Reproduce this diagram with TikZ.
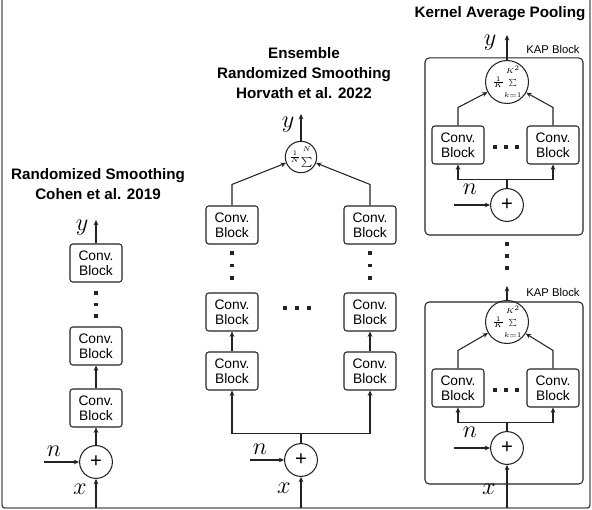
\documentclass[tikz,border=0pt]{standalone}
\usepackage{fontspec}
\setmainfont{Liberation Sans}
\usepackage{amsmath}
\usepackage{graphicx}
\usetikzlibrary{arrows.meta, positioning, calc}
\definecolor{rsLine}{RGB}{35, 35, 35}
\definecolor{rsFrame}{RGB}{80, 80, 80}
\tikzset{
  convblock/.style={rectangle, rounded corners=2pt, draw=rsLine, line width=0.75pt, minimum width=1.3cm, minimum height=0.95cm, align=center, inner sep=0pt, font=\fontsize{9.8}{11}\selectfont},
  sumnode/.style={circle, draw=rsLine, line width=0.75pt, minimum size=0.76cm, inner sep=0pt, font=\scriptsize},
  addnode/.style={circle, draw=rsLine, line width=0.75pt, minimum size=0.82cm, inner sep=0pt, font=\Large},
  kapbox/.style={rectangle, rounded corners=3pt, draw=rsLine, line width=0.75pt, minimum width=3.95cm, minimum height=#1},
  title/.style={align=center, inner sep=0pt, font=\fontsize{10.8}{14.2}\selectfont\bfseries},
  varlabel/.style={inner sep=0pt, font=\fontsize{19}{19}\selectfont},
  kaplabel/.style={inner sep=0pt, font=\fontsize{8}{9}\selectfont},
  myarrow/.style={-{Stealth[length=3.8pt, width=3.4pt]}, line width=0.75pt, rsLine},
  myline/.style={line width=1pt, rsFrame},
}
\newcommand{\convtext}{Conv.\\Block}
\newcommand{\enssum}{$\frac{1}{N}\vcenter{\hbox{\shortstack{$\scriptscriptstyle N$\\[1.4pt]$\sum$}}}$}
\newcommand{\kapsum}{{\tiny$\frac{1}{K}\vcenter{\hbox{\shortstack{$\scriptscriptstyle K^2$\\[1.4pt]$\sum$\\[1.2pt]$\scriptscriptstyle k=1$}}}$}}

\begin{document}
\begin{tikzpicture}[x=0.025cm, y=-0.025cm]
  \useasboundingbox (0,0) rectangle (592,510);
  \draw[myline, rounded corners=2pt] (2,0) -- (2,508) -- (590,508) -- (590,0);

  % --- Randomized Smoothing (Cohen) ---
  \node[title] (t1) at (98,184.5) {Randomized Smoothing\\Cohen et al. 2019};
  \node[convblock] (a3) at (96,263) {\convtext};
  \node[convblock] (a2) at (96,346) {\convtext};
  \node[convblock] (a1) at (96,408) {\convtext};
  \node[addnode] (p1) at (96,462) {+};
  \coordinate (ya) at (96,220);
  \coordinate (na) at (44,462);
  \coordinate (xa) at (96,508);
  \node[varlabel] (yl) at (82,228) {$y$};
  \node[varlabel] (nl) at (54,451) {$n$};
  \node[varlabel] (xl) at (80,489) {$x$};
  \foreach \yy in {293,304.5,316} {
    \fill[rsLine] (96-1.9,\yy-1.9) rectangle ++(3.8,3.8);
  }
  \draw[myarrow] (a3.north) -- (ya);
  \draw[myarrow] (a1) -- (a2);
  \draw[myarrow] (p1) -- (a1);
  \draw[myarrow] (na) -- (p1.west);
  \draw[myarrow] (xa) -- (p1.south);

  % --- Ensemble Randomized Smoothing (Horvath) ---
  \node[title] (t2) at (304,73) {Ensemble\\Randomized Smoothing\\Horvath et al. 2022};
  \node[sumnode] (s2) at (301,157) {\enssum};
  \node[convblock] (b3l) at (232,225) {\convtext};
  \node[convblock] (b3r) at (370,225) {\convtext};
  \node[convblock] (b2l) at (232,312) {\convtext};
  \node[convblock] (b2r) at (370,312) {\convtext};
  \node[convblock] (b1l) at (232,371) {\convtext};
  \node[convblock] (b1r) at (370,371) {\convtext};
  \node[addnode] (p2) at (301,460) {+};
  \coordinate (yb) at (301,114);
  \coordinate (nb) at (250,460);
  \coordinate (xb) at (301,508);
  \node[varlabel] (yl2) at (288,125) {$y$};
  \node[varlabel] (nl2) at (260,449) {$n$};
  \node[varlabel] (xl2) at (284,488) {$x$};
  \foreach \xx in {232,370} {
    \foreach \yy in {253,265.5,278} {
      \fill[rsLine] (\xx-1.9,\yy-1.9) rectangle ++(3.8,3.8);
    }
  }
  \foreach \xx in {285,297,309} {
    \fill[rsLine] (\xx-1.9,308-1.9) rectangle ++(3.8,3.8);
  }
  \draw[myarrow] (s2.north) -- (yb);
  \draw[myarrow] (b3l.north) -- ++(0,-21) -- (s2);
  \draw[myarrow] (b3r.north) -- ++(0,-21) -- (s2);
  \draw[myarrow] (b1l) -- (b2l);
  \draw[myarrow] (b1r) -- (b2r);
  \draw[myarrow] (p2.north) -- ++(0,-10) -| (b1l.south);
  \draw[myarrow] (p2.north) -- ++(0,-10) -| (b1r.south);
  \draw[myarrow] (nb) -- (p2.west);
  \draw[myarrow] (xb) -- (p2.south);

  % --- Kernel Average Pooling ---
  \node[title] (t3) at (500,14) {Kernel Average Pooling};

  % upper KAP block
  \node[kapbox=4.425cm] (k1) at (504,146.5) {};
  \node[kaplabel] (kl1) at (553,49) {KAP Block};
  \node[sumnode] (s3) at (507,82) {\kapsum};
  \node[convblock] (c1l) at (458,145) {\convtext};
  \node[convblock] (c1r) at (553,145) {\convtext};
  \node[addnode] (p3) at (507,205) {+};
  \coordinate (yc) at (507,35);
  \coordinate (nc) at (454,205);
  \node[varlabel] (yl3) at (490,43) {$y$};
  \node[varlabel] (nl3) at (470,189) {$n$};
  \foreach \xx in {495,506,517} {
    \fill[rsLine] (\xx-1.9,147-1.9) rectangle ++(3.8,3.8);
  }
  \draw[myarrow] (s3.north) -- (yc);
  \draw[myarrow] (c1l.north) -- ++(0,-18) -- (s3);
  \draw[myarrow] (c1r.north) -- ++(0,-18) -- (s3);
  \draw[myarrow] (p3.north) -- ++(0,-9) -| (c1l.south);
  \draw[myarrow] (p3.north) -- ++(0,-9) -| (c1r.south);
  \draw[myarrow] (nc) -- (p3.west);

  \foreach \yy in {244,256,268} {
    \fill[rsLine] (507-1.9,\yy-1.9) rectangle ++(3.8,3.8);
  }

  % lower KAP block
  \node[kapbox=4.55cm] (k2) at (504,393) {};
  \node[kaplabel] (kl2) at (553,292) {KAP Block};
  \node[sumnode] (s4) at (507,322) {\kapsum};
  \node[convblock] (c2l) at (458,388) {\convtext};
  \node[convblock] (c2r) at (553,388) {\convtext};
  \node[addnode] (p4) at (507,448) {+};
  \coordinate (yd) at (507,286);
  \coordinate (nd) at (454,448);
  \coordinate (xd) at (507,508);
  \node[varlabel] (nl4) at (470,432) {$n$};
  \node[varlabel] (xl4) at (489,489) {$x$};
  \foreach \xx in {495,506,517} {
    \fill[rsLine] (\xx-1.9,390-1.9) rectangle ++(3.8,3.8);
  }
  \draw[myarrow] (s4.north) -- (yd);
  \draw[myarrow] (c2l.north) -- ++(0,-18) -- (s4);
  \draw[myarrow] (c2r.north) -- ++(0,-18) -- (s4);
  \draw[myarrow] (p4.north) -- ++(0,-9) -| (c2l.south);
  \draw[myarrow] (p4.north) -- ++(0,-9) -| (c2r.south);
  \draw[myarrow] (nd) -- (p4.west);
  \draw[myarrow] (xd) -- (p4.south);
\end{tikzpicture}
\end{document}
